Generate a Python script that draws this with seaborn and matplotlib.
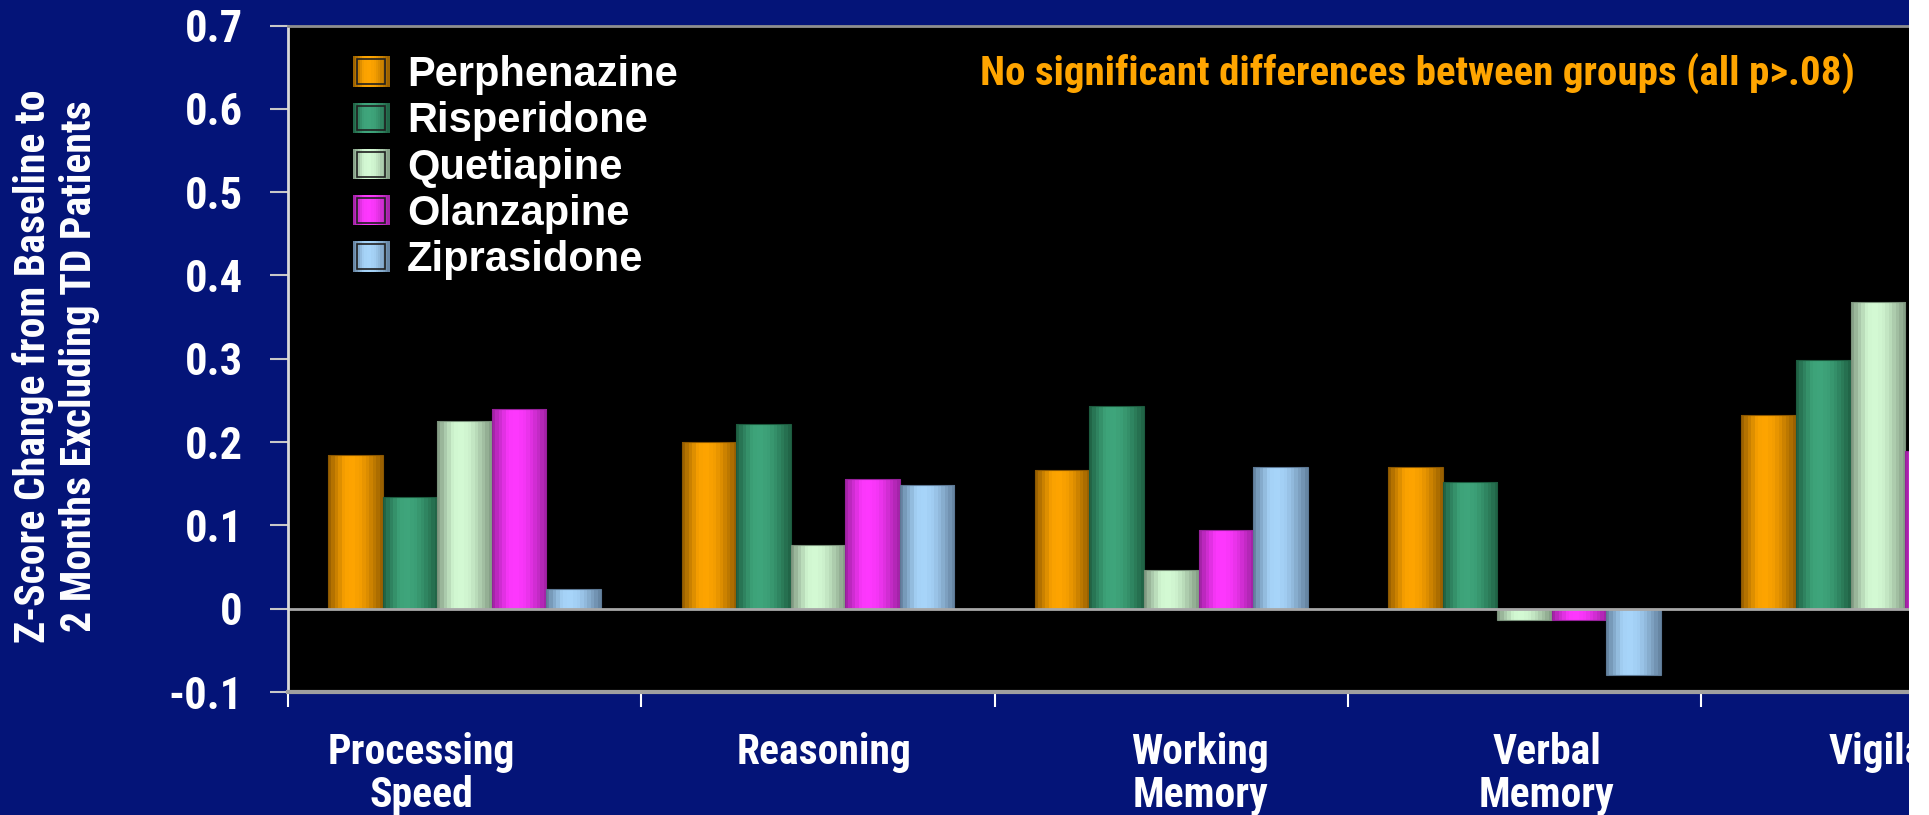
import numpy as np
import pandas as pd
import matplotlib
matplotlib.use("Agg")
import matplotlib.pyplot as plt
import seaborn as sns
from matplotlib import font_manager as fm
from matplotlib.patches import Patch, Rectangle
from matplotlib.legend_handler import HandlerBase
from matplotlib.colors import to_rgb
from matplotlib.transforms import ScaledTranslation

# ---- data -------------------------------------------------------------
domains = ["Processing\nSpeed", "Reasoning", "Working\nMemory", "Verbal\nMemory", "Vigilance"]
drugs = ["Perphenazine", "Risperidone", "Quetiapine", "Olanzapine", "Ziprasidone"]

perphenazine = [0.185, 0.200, 0.167, 0.170, 0.232]
risperidone = [0.134, 0.222, 0.243, 0.152, 0.298]
quetiapine = [0.225, 0.076, 0.046, -0.014, 0.368]
olanzapine = [0.240, 0.156, 0.094, -0.014, 0.189]
ziprasidone = [0.024, 0.149, 0.170, -0.079, np.nan]

y_ticks = [-0.1, 0.0, 0.1, 0.2, 0.3, 0.4, 0.5, 0.6, 0.7]
y_tick_labels = ["-0.1", "0", "0.1", "0.2", "0.3", "0.4", "0.5", "0.6", "0.7"]

y_title = "Z-Score Change from Baseline to\n2 Months Excluding TD Patients"
note = "No significant differences between groups (all p>.08)"

series = dict(zip(drugs, [perphenazine, risperidone, quetiapine, olanzapine, ziprasidone]))
df = pd.DataFrame(
    [(d, g, v) for g, vals in series.items() for d, v in zip(domains, vals)],
    columns=["domain", "drug", "change"],
).dropna()

# ---- style ------------------------------------------------------------
NAVY = "#041478"
bright = {"Perphenazine": "#FFA500", "Risperidone": "#3FA67C", "Quetiapine": "#D5FBD5",
          "Olanzapine": "#FF38FF", "Ziprasidone": "#A8D6FB"}
dark = {"Perphenazine": "#8A5600", "Risperidone": "#1C5A3E", "Quetiapine": "#79907A",
        "Olanzapine": "#96209A", "Ziprasidone": "#5C7894"}

# horizontal nudges (pixels) of the category captions
label_shift_px = [-43, 6, 29, 22, 29]

sns.set_style("dark", {"axes.facecolor": "black", "figure.facecolor": NAVY})
plt.rcParams["font.family"] = ["Liberation Sans", "DejaVu Sans"]


def narrow_bold(size):
    fonts = fm.fontManager.ttflist
    names = {f.name for f in fonts}
    for fam in ["Liberation Sans Narrow", "Roboto Condensed", "Open Sans Condensed"]:
        if fam in names:
            return fm.FontProperties(family=fam, weight="bold", size=size)
    for fam in ["Roboto", "DejaVu Sans"]:
        if any(f.name == fam and f.stretch == "condensed" for f in fonts):
            return fm.FontProperties(family=fam, stretch="condensed", weight="bold", size=size)
    return fm.FontProperties(family="Liberation Sans", weight="bold", size=size * 0.86)


wide_bold = fm.FontProperties(family="Liberation Sans", weight="bold", size=30)

# cylinder shading profile across a bar (0 = edge shade, 1 = full colour)
prof_t = [0.0, 0.12, 0.30, 0.45, 0.60, 0.72, 0.86, 1.0]
prof_f = [0.05, 0.45, 0.95, 1.0, 0.90, 0.70, 0.40, 0.08]
N_STRIPES = 16


def ramp(name):
    t = (np.arange(N_STRIPES) + 0.5) / N_STRIPES
    f = np.interp(t, prof_t, prof_f)[:, None]
    lo, hi = np.array(to_rgb(dark[name])), np.array(to_rgb(bright[name]))
    return np.clip(lo + (hi - lo) * f, 0, 1)


# ---- figure -----------------------------------------------------------
fig = plt.figure(figsize=(19.29, 8.15), dpi=100, facecolor=NAVY)
ax = fig.add_axes([0.1493, 0.1509, 0.8403, 0.8178])
ax.set_facecolor("black")

sns.barplot(data=df, x="domain", y="change", hue="drug", order=domains, hue_order=drugs,
            palette=bright, width=0.772, errorbar=None, saturation=1, legend=False, ax=ax)

for name, cont in zip(drugs, ax.containers):
    colors = ramp(name)[None, :, :]
    for bar in cont:
        x0, y0 = bar.get_x(), bar.get_y()
        w, h = bar.get_width(), bar.get_height()
        if not np.isfinite(h):
            continue
        im = ax.imshow(colors, extent=(x0, x0 + w, min(y0, y0 + h), max(y0, y0 + h)),
                       aspect="auto", interpolation="nearest", zorder=2)
        im.set_clip_path(bar)
        bar.set_facecolor("none")
        bar.set_edgecolor(dark[name])
        bar.set_linewidth(0.8)
        bar.set_zorder(3)

ax.axhline(0, color="#a8a8a8", lw=2, zorder=4)

# axes frame
ax.spines["right"].set_visible(False)
ax.spines["top"].set_color("#8f8f8f")
ax.spines["top"].set_linewidth(2)
ax.spines["bottom"].set_color("#a0a0a0")
ax.spines["bottom"].set_linewidth(3)
ax.spines["left"].set_color("#d9d9d9")
ax.spines["left"].set_linewidth(2)
for s in ax.spines.values():
    s.set_zorder(5)

# y axis
ax.set_yticks(y_ticks, labels=y_tick_labels)
ax.tick_params(axis="y", length=13, width=1.5, color="#c8c8c8", pad=19.5, labelcolor="white", left=True)
ytp = narrow_bold(32)
for lbl in ax.get_yticklabels():
    lbl.set_fontproperties(ytp)

# x axis: labels at category centres, tick marks between categories
ax.set_xticks(range(len(domains)), labels=domains)
ax.set_xticks(np.arange(-0.5, len(domains), 1.0), minor=True)
ax.tick_params(axis="x", which="major", length=0, pad=29, labelcolor="white", bottom=True)
ax.tick_params(axis="x", which="minor", length=11, width=1.5, color="white", bottom=True)
xtp = narrow_bold(30)
for lbl, dx in zip(ax.get_xticklabels(), label_shift_px):
    lbl.set_fontproperties(xtp)
    lbl.set_linespacing(1.05)
    lbl.set_transform(lbl.get_transform() + ScaledTranslation(dx / 100, 0, fig.dpi_scale_trans))
ax.set_xlabel("")
ax.grid(False)

# view window: the last category runs past the right edge of the panel
ax.set_xlim(-0.5, 4.088)
ax.set_ylim(-0.1, 0.7)

ax.set_ylabel(y_title, fontproperties=narrow_bold(30), color="white", linespacing=1.15)
ax.yaxis.set_label_coords(-0.1431, 0.489)
ax.yaxis.label.set_verticalalignment("center")

ax.text(0.4269, 0.9107, note, transform=ax.transAxes, ha="left", va="baseline",
        color="#FFA500", fontproperties=narrow_bold(29.5), zorder=6)


# legend with shaded swatches
class CylinderHandler(HandlerBase):
    def create_artists(self, legend, orig_handle, xdescent, ydescent, width, height, fontsize, trans):
        name = orig_handle.get_label()
        cols = ramp(name)
        n = len(cols)
        arts = [Rectangle((-xdescent + width * k / n, -ydescent), width / n, height,
                          facecolor=c, edgecolor="none", transform=trans)
                for k, c in enumerate(cols)]
        arts.append(Rectangle((-xdescent + width * 0.12, -ydescent + height * 0.08),
                              width * 0.76, height * 0.82, facecolor="none",
                              edgecolor="#202020", lw=1.2, transform=trans))
        return arts


handles = [Patch(label=d) for d in drugs]
leg = ax.legend(handles=handles, labels=drugs, loc="upper left", bbox_to_anchor=(0.0401, 0.9557),
                frameon=False, borderpad=0, borderaxespad=0, handlelength=0.88, handleheight=0.74,
                handletextpad=0.42, labelspacing=0.15, prop=wide_bold, labelcolor="white",
                handler_map={Patch: CylinderHandler()})
leg.set_zorder(7)

# blank margin along the right edge
fig.add_artist(Rectangle((1909 / 1929, 0), 1, 1, transform=fig.transFigure,
                         facecolor="white", edgecolor="none", zorder=20))

fig.savefig("out.png", dpi=100, facecolor=NAVY)
